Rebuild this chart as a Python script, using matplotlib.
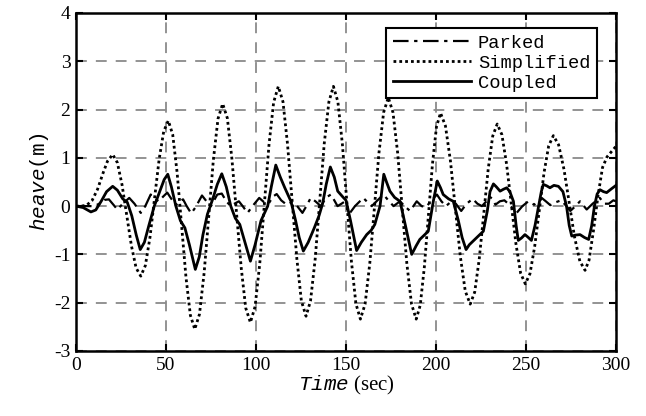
import matplotlib
matplotlib.use("Agg")
import matplotlib.pyplot as plt

# heave time histories
simplified_t = [0, 3, 6, 9, 12, 15, 17.5, 20.4,
                23.0, 25.6, 28.2, 30.8, 33.4, 36,
                38.55, 41.1, 43.65, 46.2, 48.75, 51.3,
                53.75, 56.2, 58.65, 61.1, 63.55, 66,
                68.6, 71.2, 73.75, 76.3, 78.9, 81.5,
                84.1, 86.6, 89.2, 91.8, 94.3, 96.9,
                99.5, 102.1, 104.65, 107.2, 109.8, 112.4,
                115.0, 117.5, 120.1, 122.7, 125.2, 127.8,
                130.3, 132.9, 135.4, 137.9, 140.5, 143,
                145.5, 148, 150.5, 153, 155.5, 158,
                160.6, 163.2, 165.75, 168.3, 170.9, 173.5,
                176.1, 178.7, 181.25, 183.8, 186.4, 189,
                191.25, 193.5, 195.75, 198, 200.25, 202.5,
                205.25, 208, 210.75, 213.5, 216.25, 219,
                221.5, 224, 226.5, 229, 231.5, 234,
                236.6, 239.2, 241.8, 244.4, 247.0, 249.6,
                252.2, 254.8, 257.4, 260.0, 262.6, 265.2,
                268.1, 271.1, 274.0, 276.9, 279.9, 282.8,
                285, 287.5, 290, 292.5, 295, 297.5, 300]
simplified_v = [0, 0, 0.02, 0.12, 0.35, 0.68, 0.93, 1.07,
                0.90, 0.44, -0.19, -0.82, -1.28, -1.45,
                -1.23, -0.65, 0.16, 0.97, 1.55, 1.77,
                1.48, 0.69, -0.39, -1.47, -2.26, -2.55,
                -2.24, -1.38, -0.22, 0.95, 1.81, 2.12,
                1.82, 0.99, -0.15, -1.28, -2.11, -2.41,
                -2.08, -1.19, 0.04, 1.26, 2.15, 2.48,
                2.16, 1.29, 0.10, -1.09, -1.96, -2.28,
                -1.96, -1.09, 0.10, 1.29, 2.16, 2.48,
                2.16, 1.28, 0.07, -1.14, -2.02, -2.34,
                -2.03, -1.19, -0.05, 1.10, 1.94, 2.25,
                1.94, 1.10, -0.05, -1.19, -2.03, -2.34,
                -2.05, -1.27, -0.21, 0.86, 1.64, 1.93,
                1.66, 0.94, -0.05, -1.04, -1.76, -2.03,
                -1.78, -1.10, -0.17, 0.77, 1.45, 1.70,
                1.48, 0.87, 0.05, -0.78, -1.39, -1.61,
                -1.40, -0.84, -0.08, 0.69, 1.25, 1.46,
                1.27, 0.76, 0.07, -0.63, -1.14, -1.33,
                -1.12, -0.50, 0.22, 0.80, 1.02, 1.13, 1.24]

coupled_t = [0, 4, 8.3, 11, 14, 17, 20.4, 23, 26, 28.5, 31, 33.5, 35.7,
             38, 40.5, 43.5, 46.5, 49, 51, 53, 55.5, 58, 60.5, 63, 66.3,
             68.5, 70.5, 73, 76, 78.5, 81, 83.5, 86, 88.5, 91, 93.5, 96.9,
             99.5, 102.8, 106.5, 108.5, 111, 113.5, 116, 119.4, 122, 124, 126.3,
             129, 132.4, 135, 137, 139, 141.3, 143.5, 145.4, 148, 150, 152.5, 155.9,
             158.5, 161.5, 164, 166, 168.9, 171, 172.5, 174.4, 177, 180, 183, 186.5,
             189, 191, 193.5, 195.7, 198.5, 200.7, 202.5, 204, 207, 209.6, 212.4,
             214.5, 216.7, 218.5, 220.7, 223.5, 226.3, 228.5, 230, 231.9, 233.5,
             235.6, 237.5, 239.3, 241, 243, 244.5, 245.7, 247.5, 249.4, 251, 253,
             255, 257, 258.5, 259.6, 261.5, 263.3, 265.5, 268, 270.5, 272.5, 274,
             275.4, 277.5, 280, 282.5, 284.8, 286.5, 288, 289.5, 291.1, 293, 294.8,
             297.5, 300]
coupled_v = [0, -0.03, -0.12, -0.08, 0.1, 0.3, 0.41, 0.33, 0.15, 0.08, -0.2, -0.6, -0.9,
             -0.75, -0.4, 0.0, 0.3, 0.55, 0.66, 0.4, 0.0, -0.3, -0.45, -0.8, -1.31,
             -1.05, -0.6, -0.17, 0.15, 0.45, 0.67, 0.4, 0.0, -0.25, -0.38, -0.7, -1.14,
             -0.8, -0.3, 0.0, 0.4, 0.85, 0.6, 0.38, 0.1, -0.3, -0.65, -0.93,
             -0.75, -0.45, -0.2, 0.05, 0.45, 0.81, 0.6, 0.31, 0.2, 0.12, -0.3, -0.92,
             -0.75, -0.59, -0.5, -0.38, 0.0, 0.66, 0.5, 0.31, 0.18, 0.1, -0.4, -1.0,
             -0.82, -0.69, -0.6, -0.52, 0.1, 0.52, 0.38, 0.24, 0.15, 0.1, -0.3,
             -0.65, -0.9, -0.8, -0.72, -0.62, -0.52, -0.1, 0.3, 0.46, 0.4,
             0.31, 0.35, 0.38, 0.3, 0.1, -0.4, -0.71, -0.66, -0.59, -0.64, -0.71,
             -0.4, 0.0, 0.3, 0.45, 0.42, 0.38, 0.43, 0.41, 0.3, 0.0, -0.4,
             -0.62, -0.6, -0.59, -0.65, -0.69, -0.4, 0.0, 0.25, 0.34, 0.3, 0.28,
             0.36, 0.43]

parked_t = [0, 5, 10, 13, 16, 18.3, 21, 23, 26, 29.6, 32.5, 36, 38.5, 41.5, 44, 46,
            48.5, 50.7, 53, 55.5, 57.5, 59.5, 61.5, 64, 66.5, 70, 72.5, 75, 78.5, 81,
            83.5, 86, 88, 90.5, 93, 95.3, 98.5, 101.8, 104.5, 107, 109.5, 111.5, 114,
            117, 120, 122.5, 125.8, 128, 130.4, 133, 136, 139, 141.6, 143.5, 145.3,
            147.5, 149.5, 152.2, 155, 159.6, 162, 164.3, 167.5, 170.8, 173.5, 176.4,
            180, 182.5, 185.6, 189.3, 192, 194.5, 197.5, 200.5, 203, 205.5, 208, 211,
            214, 217, 220.4, 223, 225.5, 228, 229.5, 231.5, 233, 235.5, 238, 241,
            244.8, 248, 251.3, 254.5, 258.7, 261, 263.5, 266.5, 269.5, 272, 274.6,
            277.5, 280, 283.7, 287, 291, 293.5, 296, 298.5, 300]
parked_v = [0, 0, 0.0, 0.05, 0.13, 0.14, 0.02, -0.07, 0.05, 0.17, 0.05, -0.14, 0.0, 0.24, 0.15, 0.1,
            0.2, 0.28, 0.15, 0.02, 0.1, 0.14, 0.0, -0.15, -0.02, 0.22, 0.1, 0.0, 0.24, 0.26,
            0.1, 0.0, 0.05, 0.1, -0.02, -0.14, 0.02, 0.17, 0.08, 0.05, 0.2, 0.25, 0.12,
            0.03, 0.08, 0.02, -0.14, 0.0, 0.17, 0.1, 0.0, 0.18, 0.24, 0.12, 0.0,
            0.05, 0.1, -0.14, 0.0, 0.17, 0.08, 0.0, 0.12, 0.24, 0.12, 0.0,
            0.1, 0.0, -0.1, 0.1, 0.0, -0.02, 0.12, 0.24, 0.1, 0.0, 0.08, 0.05,
            -0.1, 0.05, 0.15, 0.05, 0.0, 0.1, 0.2, 0.15, 0.03, 0.1, 0.12, 0.02,
            -0.14, 0.0, 0.1, 0.03, 0.17, 0.1, 0.02, 0.08, 0.12, 0.02, -0.1,
            0.0, 0.1, -0.07, 0.05, 0.17, 0.05, 0.05, 0.12, 0.1]

x_ticks = [0, 50, 100, 150, 200, 250, 300]
y_ticks = [-3, -2, -1, 0, 1, 2, 3, 4]

plt.rcParams["mathtext.fontset"] = "custom"
plt.rcParams["mathtext.it"] = "Liberation Mono:italic"
plt.rcParams["mathtext.rm"] = "Liberation Serif"
plt.rcParams["axes.unicode_minus"] = False

fig = plt.figure(figsize=(6.46, 4.16), dpi=100)
ax = fig.add_axes([0.1176, 0.1563, 0.836, 0.8125])

ax.plot(parked_t, parked_v, color="black", lw=1.6, linestyle=(0, (7, 2.5, 1.5, 2.5)), label="Parked")
ax.plot(simplified_t, simplified_v, color="black", lw=2.0, linestyle=(0, (1, 1.1)), label="Simplified")
ax.plot(coupled_t, coupled_v, color="black", lw=2.0, linestyle="-", label="Coupled")

ax.set_xlim(0, 300)
ax.set_ylim(-3, 4)
ax.set_xticks(x_ticks)
ax.set_yticks(y_ticks)
ax.grid(True, color="#8a8a8a", linestyle=(0, (6, 5)), linewidth=1.3)
ax.tick_params(direction="in", top=True, right=True, length=5, width=1.5,
               labelsize=14, pad=4)
for lab in ax.get_xticklabels() + ax.get_yticklabels():
    lab.set_family("Liberation Serif")
for sp in ax.spines.values():
    sp.set_linewidth(1.8)

ax.set_xlabel(r"$\mathit{Time}$ (sec)", fontsize=15, family="Liberation Serif", labelpad=0)
ax.set_ylabel(r"$\mathit{heave}$(m)", fontsize=15, family="Liberation Mono", labelpad=2)

leg = ax.legend(loc="upper right", prop={"family": "Liberation Mono", "size": 13.5},
                handlelength=4.2, fancybox=False, framealpha=1, edgecolor="black",
                borderpad=0.35, labelspacing=0.15, handletextpad=0.35,
                bbox_to_anchor=(0.982, 0.983))
leg.get_frame().set_linewidth(1.5)

fig.savefig("out.png", dpi=100)
